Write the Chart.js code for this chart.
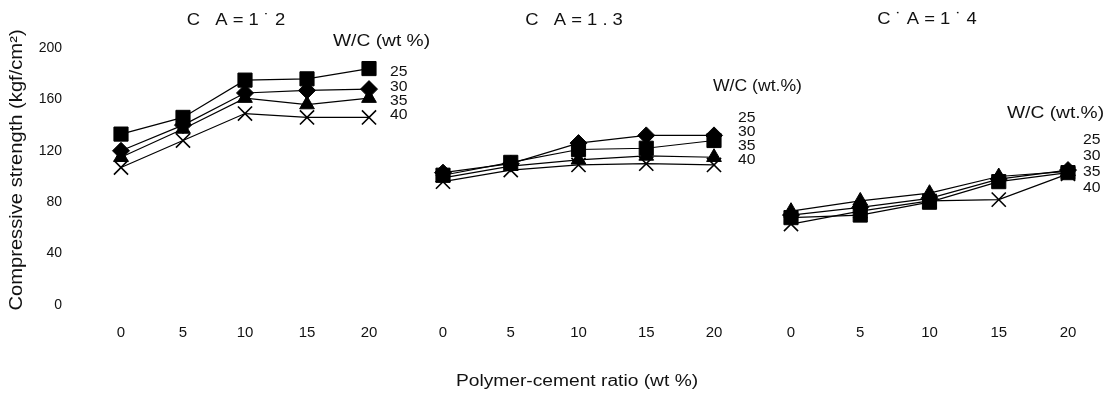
<!DOCTYPE html>
<html>
<head>
<meta charset="utf-8">
<script src="https://cdn.jsdelivr.net/npm/chart.js@4/dist/chart.umd.min.js"></script>
<style>
html, body { margin: 0; padding: 0; background: #fff; }
#wrap { position: relative; width: 1119px; height: 394px; }
#wrap canvas { position: absolute; left: 0; top: 0; }
</style>
</head>
<body>
<div id="wrap">
  <canvas id="p1" width="1119" height="394"></canvas>
  <canvas id="p2" width="1119" height="394"></canvas>
  <canvas id="p3" width="1119" height="394"></canvas>
</div>
<script>
// polymer-cement ratio (wt %) on the x axis
const polymerRatio = [0, 5, 10, 15, 20];
const wcLabels = ['25', '30', '35', '40'];
const yTicks = [0, 40, 80, 120, 160, 200];

// C:A = 1:2
const ca12_wc25 = [133, 146, 175, 176, 184];
const ca12_wc30 = [120, 140, 165, 167, 168];
const ca12_wc35 = [115, 137, 161, 156, 161];
const ca12_wc40 = [107, 128, 149, 146, 146];

// C:A = 1:3
const ca13_wc25 = [101, 111, 121, 122, 128];
const ca13_wc30 = [103, 110, 126, 132, 132];
const ca13_wc35 = [99, 108, 113, 116, 115];
const ca13_wc40 = [96, 105, 109, 110, 109];

// C:A = 1:4
const ca14_wc25 = [68, 70, 80, 96, 103];
const ca14_wc30 = [70, 76, 83, 98, 105];
const ca14_wc35 = [73, 81, 87, 100, 104];
const ca14_wc40 = [63, 73, 81, 82, 102];

const panelTitles = ['C   A = 1 \u02d9 2', 'C   A = 1 . 3', 'C \u02d9 A = 1 \u02d9 4'];
const legendTitles = ['W/C (wt %)', 'W/C (wt.%)', 'W/C (wt.%)'];

const ink = '#111';
const FONT = 'Liberation Sans, Arial, sans-serif';

// marker look for each W/C series
const markers = [
  { pointStyle: 'rect', radius: 10, width: 1 },
  { pointStyle: 'rectRot', radius: 8.5, width: 1 },
  { pointStyle: 'triangle', radius: 8.5, width: 1 },
  { pointStyle: 'crossRot', radius: 10, width: 1.6 }
];

function makeSets(series) {
  return series.map((vals, i) => ({
    label: wcLabels[i],
    data: vals.map((v, j) => ({ x: polymerRatio[j], y: v })),
    borderColor: '#000',
    backgroundColor: '#000',
    borderWidth: 1.2,
    pointStyle: markers[i].pointStyle,
    pointRadius: markers[i].radius,
    pointBorderWidth: markers[i].width,
    pointBackgroundColor: '#000',
    pointBorderColor: '#000',
    tension: 0,
    clip: false
  }));
}

// text drawn on top of a panel: {t, x, y, size, align, sx, rot}
const textPlugin = {
  id: 'texts',
  afterDraw(chart, args, opts) {
    const ctx = chart.ctx;
    (opts.items || []).forEach(it => {
      ctx.save();
      ctx.fillStyle = ink;
      ctx.font = it.size + 'px ' + FONT;
      ctx.textBaseline = 'middle';
      ctx.textAlign = it.align || 'left';
      ctx.translate(it.x, it.y);
      if (it.rot) ctx.rotate(it.rot);
      ctx.scale(it.sx || 1, 1);
      ctx.fillText(it.t, 0, 0);
      ctx.restore();
    });
  }
};

function makePanel(id, series, x0, x20, showY, items) {
  const yW = showY ? x0 : 0;
  return new Chart(document.getElementById(id), {
    type: 'line',
    data: { datasets: makeSets(series) },
    plugins: [textPlugin],
    options: {
      responsive: false,
      animation: false,
      events: [],
      layout: { padding: { left: x0 - yW, right: 1119 - x20, top: 48, bottom: 0 } },
      plugins: {
        legend: { display: false },
        tooltip: { enabled: false },
        texts: { items: items }
      },
      scales: {
        x: {
          type: 'linear', min: 0, max: 20,
          afterBuildTicks: s => { s.ticks = polymerRatio.map(v => ({ value: v })); },
          grid: { display: false, drawTicks: false },
          border: { display: false },
          ticks: { color: ink, padding: 19, font: { family: FONT, size: 15 } },
          afterFit: s => { s.height = 394 - 305; s.paddingLeft = 0; s.paddingRight = 0; }
        },
        y: {
          min: 0, max: 200,
          display: showY,
          afterBuildTicks: s => { s.ticks = yTicks.map(v => ({ value: v })); },
          grid: { display: false, drawTicks: false },
          border: { display: false },
          ticks: { color: ink, padding: x0 - 62, font: { family: FONT, size: 14 } },
          afterFit: s => { s.width = yW; s.paddingTop = 0; s.paddingBottom = 0; }
        }
      }
    }
  });
}

const nums = (x, ys) => wcLabels.map((t, i) => ({ t: t, x: x, y: ys[i], size: 15, sx: 1.05 }));

makePanel('p1', [ca12_wc25, ca12_wc30, ca12_wc35, ca12_wc40], 121, 369, true, [
  { t: panelTitles[0], x: 236, y: 21, size: 16, align: 'center', sx: 1.15 },
  { t: legendTitles[0], x: 333, y: 42, size: 16, sx: 1.2 },
  ...nums(390, [72, 87, 101, 115]),
  { t: 'Compressive strength (kgf/cm\u00b2)', x: 17, y: 170, size: 18, align: 'center', sx: 1.12, rot: -Math.PI / 2 },
  { t: 'Polymer-cement ratio (wt %)', x: 577, y: 382, size: 16, align: 'center', sx: 1.2 }
]);

makePanel('p2', [ca13_wc25, ca13_wc30, ca13_wc35, ca13_wc40], 443, 714, false, [
  { t: panelTitles[1], x: 574, y: 21, size: 16, align: 'center', sx: 1.15 },
  { t: legendTitles[1], x: 713, y: 87, size: 16, sx: 1.1 },
  ...nums(738, [118, 132, 146, 160])
]);

makePanel('p3', [ca14_wc25, ca14_wc30, ca14_wc35, ca14_wc40], 791, 1068, false, [
  { t: panelTitles[2], x: 927, y: 20, size: 16, align: 'center', sx: 1.15 },
  { t: legendTitles[2], x: 1007, y: 114, size: 16, sx: 1.2 },
  ...nums(1083, [140, 156, 172, 188])
]);
</script>
</body>
</html>
